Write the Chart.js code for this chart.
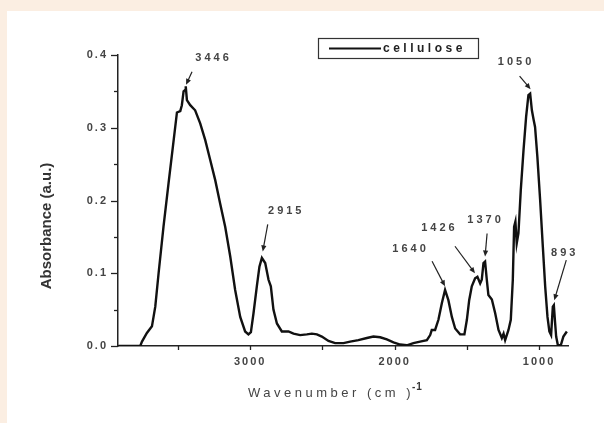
<!DOCTYPE html>
<html>
<head>
<meta charset="utf-8">
<script src="https://cdn.jsdelivr.net/npm/chart.js@4.4.1/dist/chart.umd.min.js"></script>
<style>
  html, body { margin: 0; padding: 0; background: #fbeee2; }
  body { width: 604px; height: 423px; position: relative; overflow: hidden; }
  #panel { position: absolute; left: 7px; top: 11px; right: 0; bottom: 0; background: #fff; }
  canvas { display: block; }
</style>
</head>
<body>
<div id="panel"><canvas id="ftir" width="597" height="412"></canvas></div>
<script>
// FTIR spectrum of cellulose
var seriesLabel = "cellulose";
var wavenumbers = [
  3913, 3761, 3749, 3715, 3680, 3657, 3634, 3600, 3565, 3535, 3507, 3484, 3473, 3461, 3450, 3446, 3438,
  3415, 3381, 3346, 3311, 3277, 3242, 3208, 3173, 3138, 3104, 3069, 3035, 3012, 2995, 2977, 2954,
  2936, 2919, 2896, 2873, 2857, 2839, 2815, 2781, 2735, 2700, 2654, 2608, 2573, 2538, 2504, 2458,
  2412, 2354, 2308, 2251, 2192, 2147, 2100, 2054, 2008, 1962, 1916, 1870, 1824, 1777, 1754, 1743,
  1720, 1697, 1673, 1651, 1628, 1604, 1581, 1547, 1517, 1500, 1484, 1466, 1443, 1427, 1408, 1397,
  1385, 1374, 1362, 1351, 1327, 1304, 1281, 1258, 1246, 1235, 1212, 1196, 1182, 1173, 1164, 1155,
  1143, 1127, 1108, 1090, 1074, 1062, 1050, 1038, 1028, 1012, 993, 974, 958, 942, 929, 917, 905,
  898, 889, 882, 870, 850, 832, 808
];
var absorbance = [
  0.000, 0.000, 0.006, 0.018, 0.027, 0.054, 0.100, 0.164, 0.224, 0.274, 0.321, 0.323, 0.331, 0.350, 0.352, 0.357, 0.338,
  0.331, 0.324, 0.306, 0.283, 0.256, 0.228, 0.196, 0.164, 0.123, 0.077, 0.040, 0.020, 0.016, 0.019, 0.045, 0.082,
  0.109, 0.121, 0.114, 0.091, 0.082, 0.050, 0.031, 0.020, 0.020, 0.017, 0.015, 0.016, 0.017, 0.016, 0.013, 0.007,
  0.004, 0.004, 0.006, 0.008, 0.011, 0.013, 0.012, 0.009, 0.005, 0.002, 0.001, 0.004, 0.006, 0.008, 0.015, 0.022,
  0.022, 0.036, 0.059, 0.077, 0.063, 0.040, 0.024, 0.016, 0.016, 0.036, 0.063, 0.082, 0.093, 0.095, 0.086, 0.091,
  0.114, 0.116, 0.091, 0.070, 0.064, 0.045, 0.022, 0.011, 0.017, 0.008, 0.022, 0.036, 0.091, 0.164, 0.171, 0.141,
  0.155, 0.214, 0.269, 0.315, 0.345, 0.347, 0.324, 0.311, 0.301, 0.260, 0.201, 0.136, 0.082, 0.040, 0.020, 0.015, 0.054,
  0.056, 0.031, 0.013, 0.001, 0.001, 0.013, 0.020
];

// axis ranges and ticks
var xMin = 800, xMax = 3915;
var xLabelledTicks = [1000, 2000, 3000];
var xMinorTicks = [1500, 2500, 3500];
var yLabelledTicks = [0, 0.1, 0.2, 0.3, 0.4];
var yMinorTicks = [0.05, 0.15, 0.25, 0.35];

// peak annotations: label text and the point the arrow points at
var peakLabels = ["3446", "2915", "1640", "1426", "1370", "1050", "893"];
var peakWavenumbers = [3444, 2913, 1651, 1444, 1374, 1059, 895];
var peakAbsorbance = [0.359, 0.130, 0.082, 0.100, 0.123, 0.353, 0.063];

// where label text and arrow tail sit, relative to the arrow tip (px)
var peakTextOffset = [[26, -27], [22, -40], [-36, -37], [-37, -45], [-1, -37], [-16, -27], [9, -47]];
var peakTailOffset = [[6, -13], [5, -27], [-13, -25], [-20, -27], [2, -23], [-11, -13], [12, -40]];

var FONT = "'Liberation Sans', Arial, sans-serif";
var AXIS_COLOR = "#222";

function drawArrow(ctx, x1, y1, x2, y2) {
  var ang = Math.atan2(y2 - y1, x2 - x1);
  var len = 6, half = 2.6;
  ctx.beginPath();
  ctx.moveTo(x1, y1);
  ctx.lineTo(x2 - Math.cos(ang) * len * 0.6, y2 - Math.sin(ang) * len * 0.6);
  ctx.stroke();
  ctx.beginPath();
  ctx.moveTo(x2, y2);
  ctx.lineTo(x2 - Math.cos(ang) * len + Math.sin(ang) * half, y2 - Math.sin(ang) * len - Math.cos(ang) * half);
  ctx.lineTo(x2 - Math.cos(ang) * len - Math.sin(ang) * half, y2 - Math.sin(ang) * len + Math.cos(ang) * half);
  ctx.closePath();
  ctx.fill();
}

// tick marks, legend box, peak labels and axis titles
var decorPlugin = {
  id: "decor",
  beforeDraw: function (chart) {
    chart.ctx.letterSpacing = "2px";
  },
  afterDraw: function (chart) {
    var ctx = chart.ctx;
    var xs = chart.scales.x, ys = chart.scales.y;
    var area = chart.chartArea;
    ctx.save();
    ctx.strokeStyle = AXIS_COLOR;
    ctx.lineWidth = 1.3;

    // x ticks
    xLabelledTicks.concat(xMinorTicks).forEach(function (v) {
      var px = Math.round(xs.getPixelForValue(v)) + 0.5;
      ctx.beginPath();
      ctx.moveTo(px, area.bottom);
      ctx.lineTo(px, area.bottom + 4);
      ctx.stroke();
    });
    // y ticks
    yLabelledTicks.forEach(function (v) {
      var py = Math.round(ys.getPixelForValue(v)) + 0.5;
      ctx.beginPath();
      ctx.moveTo(area.left, py);
      ctx.lineTo(area.left - 7, py);
      ctx.stroke();
    });
    yMinorTicks.forEach(function (v) {
      var py = Math.round(ys.getPixelForValue(v)) + 0.5;
      ctx.beginPath();
      ctx.moveTo(area.left, py);
      ctx.lineTo(area.left - 4, py);
      ctx.stroke();
    });

    // legend
    var lx = area.left + 200, ly = area.top - 17;
    ctx.lineWidth = 1.2;
    ctx.strokeStyle = "#333";
    ctx.strokeRect(lx + 0.5, ly + 0.5, 160, 20);
    ctx.strokeStyle = "#111";
    ctx.lineWidth = 2;
    ctx.beginPath();
    ctx.moveTo(lx + 11, ly + 10.5);
    ctx.lineTo(lx + 63, ly + 10.5);
    ctx.stroke();
    ctx.fillStyle = "#222";
    ctx.font = "bold 12px " + FONT;
    ctx.letterSpacing = "3.5px";
    ctx.textAlign = "left";
    ctx.textBaseline = "middle";
    ctx.fillText(seriesLabel, lx + 65, ly + 10.5);

    // peak labels with arrows
    ctx.font = "bold 11px " + FONT;
    ctx.letterSpacing = "3px";
    ctx.textAlign = "center";
    ctx.strokeStyle = "#222";
    ctx.lineWidth = 1.2;
    peakLabels.forEach(function (lab, i) {
      var tx = xs.getPixelForValue(peakWavenumbers[i]);
      var ty = ys.getPixelForValue(peakAbsorbance[i]);
      ctx.fillStyle = "#444";
      ctx.fillText(lab, tx + peakTextOffset[i][0] + 1.5, ty + peakTextOffset[i][1]);
      ctx.fillStyle = "#222";
      drawArrow(ctx, tx + peakTailOffset[i][0], ty + peakTailOffset[i][1], tx, ty);
    });

    // y title
    ctx.save();
    ctx.translate(area.left - 71, area.top + 171);
    ctx.rotate(-Math.PI / 2);
    ctx.font = "bold 15px " + FONT;
    ctx.letterSpacing = "0px";
    ctx.fillStyle = "#333";
    ctx.textAlign = "center";
    ctx.textBaseline = "middle";
    ctx.fillText("Absorbance (a.u.)", 0, 0);
    ctx.restore();

    // x title with superscript
    ctx.font = "13px " + FONT;
    ctx.letterSpacing = "3.5px";
    ctx.fillStyle = "#444";
    ctx.textAlign = "left";
    ctx.textBaseline = "middle";
    var tx0 = area.left + 130, ty0 = area.bottom + 47;
    var main = "Wavenumber (cm )";
    ctx.fillText(main, tx0, ty0);
    var w = ctx.measureText(main).width;
    ctx.font = "bold 10px " + FONT;
    ctx.letterSpacing = "1px";
    ctx.fillStyle = "#333";
    ctx.fillText("-1", tx0 + w - 2, ty0 - 6);

    ctx.restore();
  }
};

var ctx = document.getElementById("ftir").getContext("2d");
var tickFont = { family: FONT, size: 11, weight: "bold" };

var spectrumChart = new Chart(ctx, {
  type: "line",
  data: {
    datasets: [{
      label: seriesLabel,
      data: wavenumbers.map(function (w, i) { return { x: w, y: absorbance[i] }; }),
      borderColor: "#111",
      borderWidth: 2.4,
      pointRadius: 0,
      tension: 0,
      fill: false
    }]
  },
  options: {
    responsive: false,
    animation: false,
    layout: { padding: { top: 44, right: 36, bottom: 0, left: 0 } },
    plugins: {
      legend: { display: false },
      tooltip: { enabled: false }
    },
    scales: {
      x: {
        type: "linear",
        reverse: true,
        min: xMin,
        max: xMax,
        afterFit: function (s) { s.height = 77; },
        afterBuildTicks: function (s) {
          s.ticks = xLabelledTicks.map(function (v) { return { value: v }; });
        },
        border: { color: AXIS_COLOR, width: 1.5 },
        grid: { display: false, drawTicks: true, tickLength: 4 },
        ticks: {
          autoSkip: false,
          maxRotation: 0,
          padding: 5,
          color: "#444",
          font: tickFont,
          callback: function (v) { return String(v); }
        }
      },
      y: {
        min: 0,
        max: 0.4,
        afterFit: function (s) { s.width = 111; },
        afterBuildTicks: function (s) {
          s.ticks = yLabelledTicks.map(function (v) { return { value: v }; });
        },
        border: { color: AXIS_COLOR, width: 1.5 },
        grid: { display: false, drawTicks: true, tickLength: 7 },
        ticks: {
          padding: 3,
          color: "#444",
          font: tickFont,
          callback: function (v) { return v.toFixed(1); }
        }
      }
    }
  },
  plugins: [decorPlugin]
});
</script>
</body>
</html>
